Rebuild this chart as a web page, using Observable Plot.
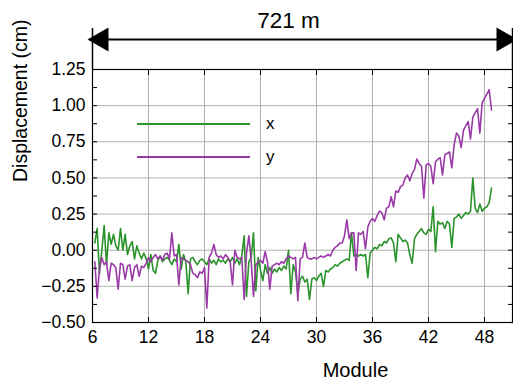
<!DOCTYPE html>
<html><head><meta charset="utf-8">
<script src="https://cdn.jsdelivr.net/npm/d3@7"></script>
<script src="https://cdn.jsdelivr.net/npm/@observablehq/plot@0.6"></script>
<style>
body{margin:0;background:#fff;}
#wrap{position:relative;width:513px;height:380px;font-family:"Liberation Sans",Arial,sans-serif;}
.leg{position:absolute;left:137px;height:20px;display:flex;align-items:center;font-size:17px;color:#000;}
.leg .ln{display:inline-block;width:113px;height:0;border-top:2px solid;margin-right:16px;}
</style></head><body><div id="wrap"></div>
<script>
// Module positions: first module value and step between readings
const moduleStart = 6.25, moduleStep = 0.25;
// Displacement x (cm), green
const dispX = [
 0.05, 0.15, -0.16, 0.0,   0.17, -0.1, 0.12, 0.04,   0.11, 0.03, 0.0, 0.15,   0.0, 0.11, -0.03, 0.03,
 0.06, -0.06, 0.03, -0.02, -0.06, -0.02, -0.06, -0.13, -0.03, -0.14, -0.16, -0.07, -0.04, -0.08, -0.06, -0.05,
 -0.07, -0.1, -0.06, -0.08, 0.04, -0.13, -0.03, -0.08, -0.3, -0.06, -0.05, -0.08, -0.1, -0.07, -0.06, -0.08,
 -0.1, -0.06, -0.09, -0.07, -0.1, -0.06, -0.08, -0.07, -0.09, -0.06, -0.08, -0.05, -0.09, -0.06, -0.1, -0.04,
 0.1, -0.32, -0.08, -0.05, 0.12, -0.28, -0.05, -0.14, -0.21, -0.1, -0.16, -0.12, -0.16, -0.13, -0.15, -0.12,
 -0.14, -0.11, -0.13, 0.0, -0.3, -0.1, -0.15, -0.3, -0.2, -0.18, -0.22, -0.2, -0.34, -0.2, -0.19, -0.21,
 -0.18, -0.16, -0.25, -0.14, -0.15, -0.13, -0.12, -0.1, -0.11, -0.09, -0.08, -0.07, -0.06, -0.07, 0.12, -0.04,
 -0.03, -0.04, -0.03, -0.04, -0.03, -0.19, -0.02, 0.0, 0.02, 0.01, 0.04, 0.03, 0.06, 0.05, 0.08, 0.085,
 0.05, -0.08, 0.11, 0.085, 0.06, 0.07, 0.05, -0.03, -0.09, 0.08, 0.11, 0.13, 0.15, 0.12, 0.11, 0.145,
 0.13, 0.3, -0.01, 0.2, 0.18, 0.19, 0.15, 0.2, 0.18, 0.02, 0.22, 0.23, 0.25, 0.22, 0.24, 0.26,
 0.25, 0.27, 0.5, 0.29, 0.26, 0.32, 0.27, 0.29, 0.3, 0.33, 0.43
];
// Displacement y (cm), purple
const dispY = [
 -0.08, -0.33, -0.12, -0.05, -0.1, -0.08, -0.21, -0.09, -0.1, -0.12, -0.27, -0.09, -0.1, -0.2, -0.11, -0.1,
 -0.21, -0.12, -0.1, -0.18, -0.11, -0.12, -0.09, -0.05, -0.08, -0.05, -0.03, -0.06, -0.04, -0.07, -0.03, -0.02,
 -0.06, 0.12, -0.04, -0.03, -0.24, -0.05, -0.06, -0.07, -0.08, -0.1, -0.16, -0.17, -0.19, -0.15, -0.16, -0.12,
 -0.4, -0.05, -0.02, 0.04, -0.03, -0.05, -0.04, -0.06, -0.03, -0.05, -0.08, -0.24, 0.0, -0.05, -0.06, -0.05,
 -0.34, -0.02, 0.1, -0.07, -0.32, -0.1, -0.08, -0.07, -0.09, -0.01, -0.08, -0.27, -0.11, -0.1, -0.09, -0.1,
 -0.08, -0.09, -0.06, -0.04, -0.05, -0.06, -0.05, -0.35, -0.06, -0.05, 0.05, -0.05, -0.06, -0.06, -0.05, -0.06,
 -0.05, -0.04, -0.05, -0.04, -0.03, -0.04, 0.0, 0.02, 0.03, 0.05, 0.05, 0.1, 0.21, 0.08, 0.12, 0.12,
 -0.14, 0.12, 0.11, 0.13, 0.01, 0.16, 0.2, 0.22, 0.2, 0.24, 0.27, 0.26, 0.21, 0.29, 0.3, 0.37,
 0.3, 0.41, 0.4, 0.44, 0.45, 0.5, 0.52, 0.48, 0.53, 0.56, 0.63, 0.6, 0.58, 0.36, 0.59, 0.6,
 0.58, 0.46, 0.61, 0.63, 0.64, 0.52, 0.66, 0.67, 0.68, 0.57, 0.73, 0.81, 0.79, 0.71, 0.83, 0.86,
 0.89, 0.77, 0.92, 0.95, 0.98, 0.81, 1.02, 1.05, 1.08, 1.11, 0.97
];
const xTicks = [6, 12, 18, 24, 30, 36, 42, 48];
const yTicks = [-0.5, -0.25, 0, 0.25, 0.5, 0.75, 1.0, 1.25];
const yMinorTicks = [-0.375, -0.125, 0.125, 0.375, 0.625, 0.875, 1.125];
const seriesNames = ["x", "y"];
const seriesColors = ["#2a932a", "#9a3aa6"];
const spanLabel = "721 m";
const xLabel = "Module";
const yLabel = "Displacement (cm)";
const spanEnds = [6, 51];

const rows = dispX.map((v, i) => ({module: moduleStart + i * moduleStep, x: v, y: dispY[i]}));
const yAll = yTicks.concat(yMinorTicks);
const blank = () => "";

const chart = Plot.plot({
  width: 513, height: 380,
  marginLeft: 92, marginRight: 1, marginTop: 69, marginBottom: 58,
  style: {fontFamily: "Liberation Sans, Arial, sans-serif", fontSize: "17px", background: "white", color: "black", overflow: "visible"},
  x: {domain: [6, 51]},
  y: {domain: [-0.5, 1.25]},
  marks: [
    Plot.gridX(xTicks, {stroke: "#b0b0b0", strokeOpacity: 1}),
    Plot.gridY(yTicks, {stroke: "#b0b0b0", strokeOpacity: 1}),
    Plot.line(rows, {x: "module", y: "x", stroke: seriesColors[0], strokeWidth: 1.6}),
    Plot.line(rows, {x: "module", y: "y", stroke: seriesColors[1], strokeWidth: 1.6}),
    Plot.frame({stroke: "black", strokeWidth: 1.2}),
    Plot.axisX(xTicks, {anchor: "bottom", tickSize: 0, tickPadding: 8, fontSize: 17.5, label: null}),
    Plot.axisX(xTicks, {anchor: "bottom", tickSize: -5, tickFormat: blank, label: null}),
    Plot.axisX(xTicks, {anchor: "top", tickSize: -5, tickFormat: blank, label: null}),
    Plot.axisY(yTicks, {anchor: "left", tickSize: 0, tickPadding: 7, fontSize: 17.5, tickFormat: d3.format(".2f"), label: null}),
    Plot.axisY(yAll, {anchor: "left", tickSize: -5, tickFormat: blank, label: null}),
    Plot.axisY(yAll, {anchor: "right", tickSize: -5, tickFormat: blank, label: null}),
    Plot.text([xLabel], {frameAnchor: "bottom", lineAnchor: "middle", dx: 53, dy: 48, fontSize: 20}),
    Plot.text([yLabel], {frameAnchor: "left", lineAnchor: "middle", rotate: -90, dx: -72, dy: -14, fontSize: 19.5}),
    // span annotation above the plot
    Plot.ruleY([1.25], {dy: -30, stroke: "black", strokeWidth: 2}),
    Plot.ruleX(spanEnds, {insetTop: -41, insetBottom: 253, stroke: "black", strokeWidth: 1.5}),
    Plot.dot([spanEnds[0]], {x: d => d, frameAnchor: "top", dy: -30, dx: 9, symbol: "triangle", rotate: -90, r: 9, fill: "black", stroke: null}),
    Plot.dot([spanEnds[1]], {x: d => d, frameAnchor: "top", dy: -30, dx: -9, symbol: "triangle", rotate: 90, r: 9, fill: "black", stroke: null}),
    Plot.text([spanLabel], {frameAnchor: "top", lineAnchor: "middle", dx: -14, dy: -49, fontSize: 22.5})
  ]
});

const wrap = document.getElementById("wrap");
wrap.appendChild(chart);
const legTops = [114, 147];
seriesNames.forEach((name, i) => {
  const d = document.createElement("div");
  d.className = "leg";
  d.style.top = legTops[i] + "px";
  const ln = document.createElement("span");
  ln.className = "ln";
  ln.style.borderTopColor = seriesColors[i];
  d.appendChild(ln);
  d.appendChild(document.createTextNode(name));
  wrap.appendChild(d);
});
</script></body></html>
